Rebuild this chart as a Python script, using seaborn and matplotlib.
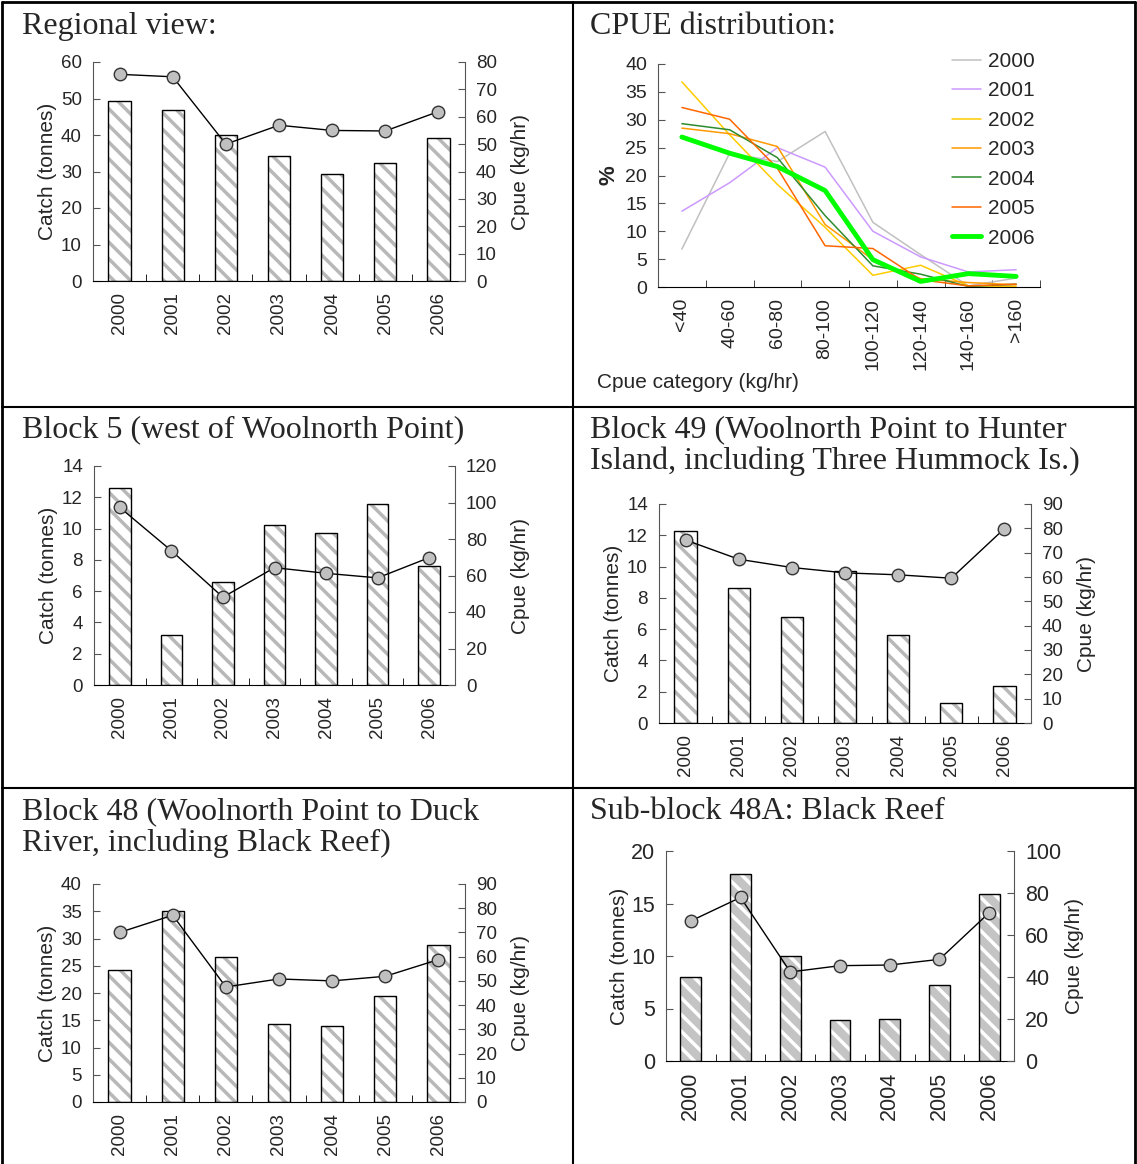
import numpy as np
import matplotlib
matplotlib.use("Agg")
import matplotlib.pyplot as plt
import seaborn as sns
from matplotlib.lines import Line2D

# ---- data ----
years = ["2000", "2001", "2002", "2003", "2004", "2005", "2006"]

regional_catch = [49.2, 46.8, 39.9, 34.3, 29.3, 32.4, 39.3]
regional_cpue = [75.5, 74.6, 50.0, 56.9, 55.0, 54.8, 61.9]

block5_catch = [12.6, 3.2, 6.6, 10.2, 9.7, 11.6, 7.6]
block5_cpue = [97.3, 73.6, 48.1, 64.3, 61.2, 58.7, 69.8]

block49_catch = [12.25, 8.6, 6.8, 9.7, 5.65, 1.3, 2.35]
block49_cpue = [75.2, 67.3, 63.9, 61.7, 60.9, 59.5, 79.9]

block48_catch = [24.2, 35.0, 26.6, 14.4, 14.0, 19.4, 28.8]
block48_cpue = [70.0, 77.1, 47.5, 50.8, 50.0, 51.9, 58.8]

black_reef_catch = [8.0, 17.8, 10.0, 3.9, 4.0, 7.2, 15.9]
black_reef_cpue = [66.7, 77.9, 42.4, 45.4, 45.7, 48.4, 70.6]

cpue_cats = ["<40", "40-60", "60-80", "80-100", "100-120", "120-140", "140-160", ">160"]
pct_2000 = [6.8, 24.0, 22.5, 27.9, 11.6, 5.8, 0.2, 1.6]
pct_2001 = [13.6, 18.7, 25.0, 21.5, 10.0, 5.4, 2.7, 3.1]
pct_2002 = [36.8, 27.3, 18.4, 10.7, 2.1, 3.9, 0.2, 0.1]
pct_2003 = [28.5, 27.5, 25.2, 11.2, 4.9, 1.5, 0.8, 0.4]
pct_2004 = [29.3, 28.2, 23.2, 12.8, 3.8, 2.3, 0.1, 0.5]
pct_2005 = [32.2, 30.1, 21.3, 7.4, 6.9, 1.3, 0.2, 0.5]
pct_2006 = [26.9, 24.0, 21.6, 17.3, 4.9, 1.0, 2.4, 1.9]
dist_series = [pct_2000, pct_2001, pct_2002, pct_2003, pct_2004, pct_2005, pct_2006]
dist_colors = ["#c0c0c0", "#cc99ff", "#ffcc00", "#ff9900", "#2e8b2e", "#ff6600", "#00ff00"]
dist_widths = [1.1, 1.1, 1.1, 1.1, 1.1, 1.1, 3.5]

sns.set_style("ticks")
plt.rcParams["font.family"] = ["Liberation Sans", "DejaVu Sans"]
plt.rcParams["hatch.linewidth"] = 2.5

W, H = 1137, 1164
fig = plt.figure(figsize=(W / 100, H / 100), dpi=100)
SPINE = "#555555"


def box(l, t, r, b):
    return [l / W, 1 - b / H, (r - l) / W, (b - t) / H]


def catch_cpue(rect, catch, cpue, cmax, cstep, rmax, rstep, fs=13.5,
               face="white", stripe="#b8b8b8", lpad=3, rpad=10):
    ax = fig.add_axes(rect)
    sns.barplot(x=years, y=catch, ax=ax, color=face, edgecolor=stripe,
                hatch="\\\\", linewidth=0, width=0.42)
    sns.barplot(x=years, y=catch, ax=ax, fill=False, color="black",
                linewidth=1, width=0.42)
    ax2 = ax.twinx()
    sns.lineplot(x=np.arange(len(years)), y=cpue, ax=ax2, color="black",
                 linewidth=1, marker="o", markersize=9,
                 markerfacecolor="#c0c0c0", markeredgecolor="#333333",
                 markeredgewidth=1)
    ax.set_xlim(-0.5, len(years) - 0.5)
    ax.set_ylim(0, cmax)
    ax.set_yticks(np.arange(0, cmax + cstep / 2, cstep))
    ax2.set_ylim(0, rmax)
    ax2.set_yticks(np.arange(0, rmax + rstep / 2, rstep))
    ax.set_xticks(range(len(years)))
    ax.set_xticklabels(years, rotation=90)
    ax.set_xticks(np.arange(-0.5, len(years), 1), minor=True)
    ax.tick_params(axis="x", which="major", length=0, pad=8, labelsize=fs)
    ax.tick_params(axis="x", which="minor", direction="in", length=5,
                   bottom=True, color="black")
    ax.tick_params(axis="y", direction="in", length=5, pad=8, labelsize=fs,
                   color=SPINE)
    ax2.tick_params(axis="y", direction="in", length=5, pad=8, labelsize=fs,
                    color=SPINE)
    for s in ["top", "right"]:
        ax.spines[s].set_visible(False)
    for s in ["top", "left", "bottom"]:
        ax2.spines[s].set_visible(False)
    ax.spines["left"].set_color(SPINE)
    ax2.spines["right"].set_color(SPINE)
    ax.spines["bottom"].set_color("black")
    ax.set_xlabel("")
    ax.set_ylabel("Catch (tonnes)", fontsize=15, labelpad=lpad)
    ax2.set_ylabel("Cpue (kg/hr)", fontsize=15, labelpad=rpad)
    return ax, ax2


catch_cpue(box(93, 62, 465, 281), regional_catch, regional_cpue, 60, 10, 80, 10)
catch_cpue(box(94, 466, 455, 685), block5_catch, block5_cpue, 14, 2, 120, 20)
catch_cpue(box(659, 504, 1031, 723), block49_catch, block49_cpue, 14, 2, 90, 10)
catch_cpue(box(93, 884, 465, 1102), block48_catch, block48_cpue, 40, 5, 90, 10)
catch_cpue(box(666, 851, 1014, 1061), black_reef_catch, black_reef_cpue, 20, 5, 100, 20,
           fs=15.5, face="#c4c4c4", stripe="white", lpad=1, rpad=3)

# ---- CPUE distribution ----
ax = fig.add_axes(box(658, 64, 1040, 287))
pos = np.arange(len(cpue_cats))
for yr, vals, col, lw in zip(years, dist_series, dist_colors, dist_widths):
    sns.lineplot(x=pos, y=vals, ax=ax, color=col, linewidth=lw, label=yr)
ax.set_xlim(-0.5, len(cpue_cats) - 0.5)
ax.set_ylim(0, 40)
ax.set_yticks(np.arange(0, 41, 5))
ax.set_xticks(pos)
ax.set_xticklabels(cpue_cats, rotation=90)
ax.set_xticks(np.arange(-0.5, len(cpue_cats), 1), minor=True)
ax.tick_params(axis="x", which="major", length=0, pad=8, labelsize=14)
ax.tick_params(axis="x", which="minor", direction="in", length=5, bottom=True)
ax.tick_params(axis="y", direction="in", length=5, pad=8, labelsize=14, color=SPINE)
for s in ["top", "right"]:
    ax.spines[s].set_visible(False)
ax.spines["left"].set_color(SPINE)
ax.spines["bottom"].set_color("black")
ax.set_ylabel("%", fontsize=16, fontweight="bold", labelpad=4)
ax.set_xlabel("Cpue category (kg/hr)", fontsize=15, ha="left", va="center")
ax.xaxis.set_label_coords((597 - 658) / 382, (287 - 383) / 223)
ax.legend(loc="upper right", bbox_to_anchor=(1035 / W, 1 - 52 / H),
          bbox_transform=fig.transFigure, frameon=False, fontsize=15,
          handlelength=1.4, labelspacing=0.5, borderpad=0, borderaxespad=0,
          handletextpad=0.35)

# ---- cell titles ----
titles = [
    (22, 34, ["Regional view:"]),
    (590, 34, ["CPUE distribution:"]),
    (22, 437, ["Block 5 (west of Woolnorth Point)"]),
    (590, 437, ["Block 49 (Woolnorth Point to Hunter",
                "Island, including Three Hummock Is.)"]),
    (22, 819, ["Block 48 (Woolnorth Point to Duck",
               "River, including Black Reef)"]),
    (590, 819, ["Sub-block 48A: Black Reef"]),
]
for x, y, lines in titles:
    for i, line in enumerate(lines):
        fig.text(x / W, 1 - (y + 32 * i) / H, line, family="Liberation Serif",
                 fontsize=23, va="baseline", ha="left")


# ---- table borders ----
def hline(y, x0=2, x1=1135, lw=2):
    fig.add_artist(Line2D([x0 / W, x1 / W], [1 - y / H, 1 - y / H],
                          transform=fig.transFigure, color="black", lw=lw))


def vline(x, y0=2, y1=1164, lw=2):
    fig.add_artist(Line2D([x / W, x / W], [1 - y0 / H, 1 - y1 / H],
                          transform=fig.transFigure, color="black", lw=lw))


hline(2)
hline(407, lw=1.5)
hline(788, lw=1.5)
vline(2)
vline(573, lw=1.5)
vline(1135)

fig.savefig("out.png", dpi=100)
